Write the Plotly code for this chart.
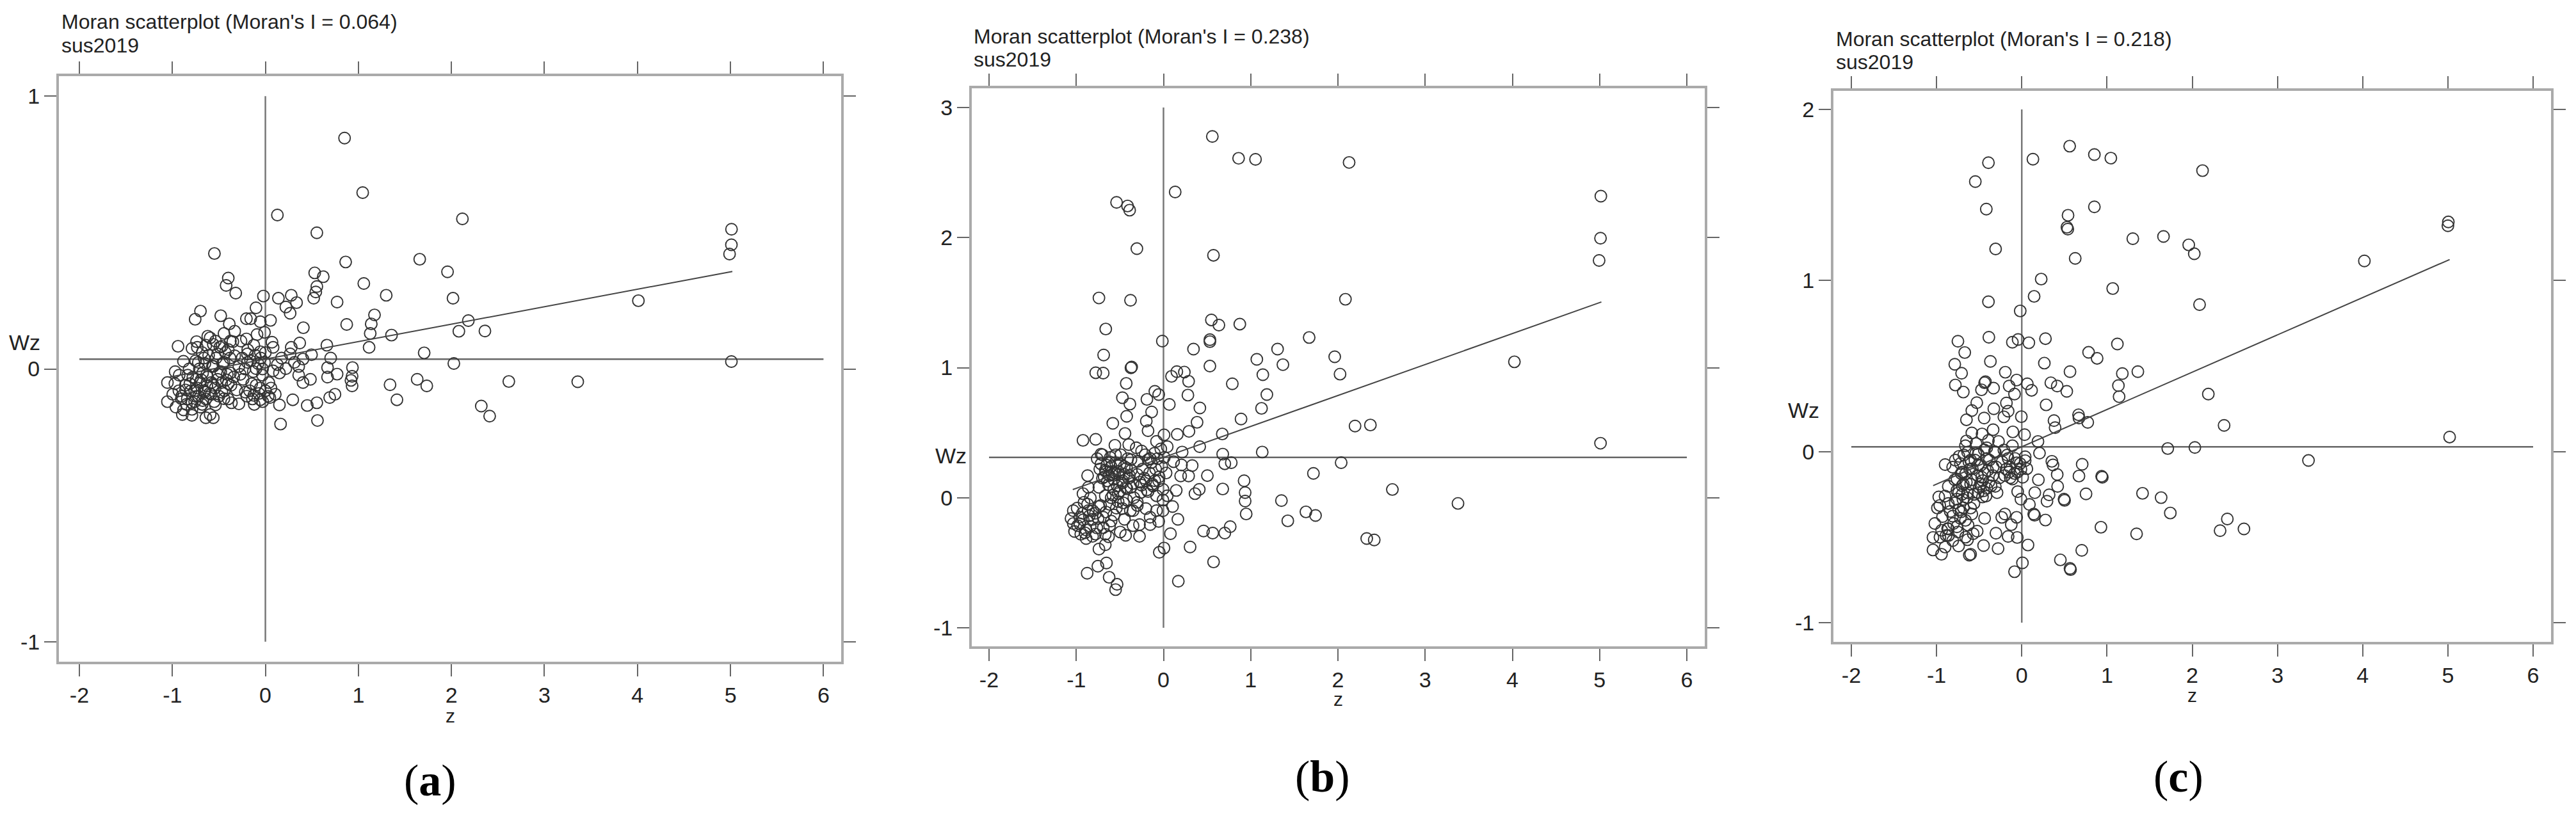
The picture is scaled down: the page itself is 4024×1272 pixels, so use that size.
import plotly.graph_objects as go

# ---------------- data ----------------
TITLES = ["Moran scatterplot (Moran's I = 0.064)",
          "Moran scatterplot (Moran's I = 0.238)",
          "Moran scatterplot (Moran's I = 0.218)"]
SUBTITLE = "sus2019"
CAPTIONS = ["a", "b", "c"]
MORAN_I = [0.064, 0.238, 0.218]
MEAN_WZ = [0.036, 0.310, 0.028]
Z_LINE = [-1.04, 5.02]
X_TICKS = [-2, -1, 0, 1, 2, 3, 4, 5, 6]
Y_TICKS_A = [-1, 0, 1]
Y_TICKS_B = [-1, 0, 1, 2, 3]
Y_TICKS_C = [-1, 0, 1, 2]

POINTS_A = [
    (0.851, 0.846), (1.046, 0.646), (0.129, 0.564), (2.118, 0.550), (0.553, 0.499),
    (-0.548, 0.423), (1.659, 0.402), (0.863, 0.392), (1.958, 0.356), (0.530, 0.352),
    (0.622, 0.338), (1.058, 0.313), (-0.399, 0.333), (-0.422, 0.306), (-0.319, 0.278),
    (0.553, 0.302), (0.542, 0.282), (0.519, 0.259), (-0.021, 0.267), (0.140, 0.259),
    (0.278, 0.270), (0.335, 0.243), (0.220, 0.227), (0.266, 0.204), (1.299, 0.270),
    (2.017, 0.259), (0.771, 0.245), (-0.698, 0.212), (-0.755, 0.182), (-0.480, 0.195),
    (-0.101, 0.224), (-0.204, 0.184), (-0.158, 0.184), (-0.055, 0.173), (0.055, 0.178),
    (-0.388, 0.165), (1.173, 0.198), (1.138, 0.165), (2.182, 0.177), (0.874, 0.163),
    (0.408, 0.151), (-0.330, 0.138), (1.127, 0.130), (2.080, 0.138), (1.356, 0.124),
    (2.360, 0.139), (-0.204, 0.110), (-0.090, 0.126), (0.071, 0.098), (0.369, 0.095),
    (-0.939, 0.083), (1.115, 0.079), (0.661, 0.087), (0.278, 0.079), (0.496, 0.052),
    (1.707, 0.059), (0.702, 0.040), (2.026, 0.020), (0.668, 0.005), (0.936, 0.005),
    (0.771, -0.019), (0.932, -0.027), (0.668, -0.030), (0.484, -0.038), (0.920, -0.042),
    (0.932, -0.062), (0.358, -0.023), (0.404, -0.050), (1.340, -0.058), (1.632, -0.038),
    (1.735, -0.062), (1.414, -0.113), (0.748, -0.093), (0.691, -0.105), (0.294, -0.113),
    (0.553, -0.124), (0.450, -0.134), (0.151, -0.132), (0.163, -0.202), (0.560, -0.189),
    (2.321, -0.136), (5.011, 0.512), (5.010, 0.455), (4.990, 0.421), (5.010, 0.027),
    (4.010, 0.250), (3.358, -0.047), (2.617, -0.046), (2.411, -0.173),
    # dense cluster
    (-1.053, -0.050), (-1.053, -0.120), (-0.962, -0.140), (-0.893, -0.167), (-0.789, -0.148),
    (-0.640, -0.179), (-0.560, -0.179), (-0.594, -0.167), (-0.881, 0.028), (-0.789, 0.075),
    (-0.732, 0.079), (-0.594, 0.114), (-0.445, 0.130), (-0.640, 0.087), (-0.285, -0.128),
    (-0.365, -0.124), (-0.124, -0.097), (-0.055, -0.113), (0.048, -0.105), (0.106, -0.093),
    (0.037, -0.050), (0.151, -0.015), (0.174, 0.040), (0.266, 0.055), (0.404, 0.036),
    (0.358, 0.009), (0.083, 0.079), (-0.193, 0.055), (-0.193, 0.024), (-0.101, 0.001),
    (-0.239, -0.038), (-0.973, -0.054), (-0.996, -0.093), (-0.858, -0.077), (-0.744, -0.038),
    (-0.675, -0.015), (-0.560, 0.009), (-0.445, 0.024), (-0.514, 0.055), (-0.399, 0.071),
    (-0.330, 0.048), (-0.629, -0.062), (-0.514, -0.038), (-0.468, -0.085), (-0.744, -0.101),
    (-0.835, -0.023), (-0.675, -0.116), (-0.583, -0.093), (-0.399, -0.054), (-0.308, -0.077),
    (-0.376, -0.015), (-0.285, 0.009), (-0.147, -0.054), (-0.055, -0.070), (-0.032, -0.023),
    (-0.009, 0.024), (-0.055, 0.063), (-0.124, 0.087), (-0.262, 0.102), (-0.009, 0.134),
    (-0.376, 0.102), (-0.537, 0.102), (-0.468, 0.083), (-0.721, 0.024), (-0.927, -0.023),
    (-0.812, -0.054), (-0.904, -0.109), (-0.789, -0.124), (-0.537, -0.132), (-0.445, -0.109),
    (-0.652, -0.085), (-0.216, -0.085), (0.083, -0.007), (0.129, 0.016), (0.220, 0.001),
    (0.312, 0.024), (-0.700, -0.050), (-0.620, -0.030), (-0.560, -0.060), (-0.480, -0.010),
    (-0.760, -0.080), (-0.660, 0.040), (-0.420, -0.040), (-0.850, -0.130), (-0.700, -0.140),
    (-0.90, -0.10), (-0.86, -0.06), (-0.84, -0.11), (-0.82, 0.00), (-0.80, -0.08),
    (-0.78, -0.03), (-0.76, -0.12), (-0.75, 0.03), (-0.73, -0.07), (-0.72, -0.10),
    (-0.71, 0.00), (-0.69, -0.04), (-0.68, -0.13), (-0.66, -0.08), (-0.65, 0.02),
    (-0.64, -0.11), (-0.63, -0.02), (-0.61, 0.05), (-0.60, -0.09), (-0.58, -0.05),
    (-0.57, 0.01), (-0.55, -0.12), (-0.54, -0.07), (-0.53, 0.04), (-0.51, -0.02),
    (-0.50, -0.10), (-0.49, 0.08), (-0.47, -0.05), (-0.46, 0.02), (-0.44, -0.08),
    (-0.43, 0.06), (-0.41, -0.02), (-0.40, -0.11), (-0.38, 0.04), (-0.37, -0.06),
    (-0.35, 0.10), (-0.34, -0.03), (-0.68, 0.06), (-0.74, 0.10), (-0.62, 0.12),
    (-0.56, 0.09), (-0.97, -0.01), (-0.93, -0.08), (-0.88, -0.15), (-0.79, -0.17),
    (-0.25, 0.04), (-0.22, 0.00), (-0.19, 0.07), (-0.16, 0.03), (-0.13, -0.01),
    (-0.11, 0.05), (-0.08, 0.02), (-0.05, 0.04), (-0.03, 0.00), (0.00, 0.06),
    (-0.27, -0.02), (-0.17, -0.08), (-0.14, -0.11), (-0.10, -0.06), (-0.07, -0.09),
    (-0.03, -0.12), (0.00, -0.08), (0.03, -0.10), (0.06, -0.07), (-0.20, -0.10),
    (-0.12, -0.13),
]

POINTS_B = [
    (0.560, 2.778), (0.861, 2.610), (1.055, 2.602), (2.128, 2.578), (0.134, 2.351),
    (-0.538, 2.271), (-0.412, 2.243), (-0.388, 2.211), (-0.305, 1.915), (0.573, 1.864),
    (5.014, 2.319), (5.010, 1.995), (4.994, 1.824), (5.010, 0.419), (4.023, 1.045),
    (3.376, -0.044), (2.624, 0.063),
    (-0.740, 1.536), (-0.378, 1.518), (2.086, 1.526), (-0.662, 1.297), (0.549, 1.367),
    (0.635, 1.327), (0.875, 1.335), (1.670, 1.232), (-0.013, 1.204), (0.532, 1.215),
    (0.532, 1.200), (0.344, 1.143), (1.308, 1.143), (1.963, 1.084), (1.070, 1.064),
    (-0.686, 1.097), (-0.373, 0.999), (-0.365, 1.005), (-0.777, 0.961), (-0.691, 0.958),
    (1.369, 1.023), (0.532, 1.012), (2.024, 0.950), (1.139, 0.946), (0.092, 0.933),
    (0.153, 0.969), (0.239, 0.966), (0.288, 0.895), (-0.427, 0.879), (0.789, 0.876),
    (-0.099, 0.818), (-0.055, 0.793), (0.280, 0.789), (1.185, 0.793), (-0.471, 0.769),
    (-0.190, 0.756), (-0.385, 0.720), (0.067, 0.717), (0.417, 0.690), (1.124, 0.687),
    (-0.136, 0.659), (-0.422, 0.626), (0.385, 0.580), (-0.197, 0.589), (0.889, 0.605),
    (-0.581, 0.572), (-0.177, 0.515), (2.196, 0.551), (2.372, 0.559), (0.292, 0.510),
    (0.158, 0.487), (0.674, 0.490), (0.006, 0.483), (-0.441, 0.494), (-0.923, 0.441),
    (-0.777, 0.449), (-0.080, 0.433), (0.415, 0.392), (-0.557, 0.403), (-0.398, 0.408),
    (-0.312, 0.384), (0.043, 0.392), (1.132, 0.351), (0.214, 0.351), (0.679, 0.335),
    (-0.716, 0.335), (-0.153, 0.301), (2.037, 0.269), (0.703, 0.261), (0.777, 0.269),
    (0.116, 0.277), (0.206, 0.252), (0.329, 0.247), (1.719, 0.187), (0.503, 0.170),
    (0.924, 0.130), (0.197, 0.167), (0.288, 0.167), (-0.870, 0.170), (0.679, 0.067),
    (0.936, 0.039), (0.410, 0.064), (0.146, 0.056), (0.361, 0.031), (0.936, -0.026),
    (1.352, -0.022), (0.948, -0.125), (1.425, -0.178), (1.633, -0.109), (1.743, -0.137),
    (2.330, -0.314), (2.416, -0.325), (0.104, -0.068), (0.165, -0.166), (0.459, -0.256),
    (0.564, -0.272), (0.703, -0.272), (0.765, -0.223), (0.080, -0.277), (0.305, -0.379),
    (0.006, -0.387), (-0.048, -0.420), (0.574, -0.494), (0.170, -0.642), (-0.875, -0.581),
    (-0.752, -0.527), (-0.654, -0.502), (-0.740, -0.395), (-0.623, -0.612), (-0.532, -0.666),
    (-0.549, -0.707), (-0.667, -0.362), (-0.275, -0.297), (-0.434, -0.289), (-0.496, -0.264),
    (-0.153, -0.207), (-0.275, -0.207), (-0.080, -0.100), (-0.006, -0.100), (-1.034, -0.100),
    (-1.034, -0.199), (-0.948, -0.281), (-0.887, -0.314), (-0.923, 0.031), (-0.862, 0.080),
    # dense cluster
    (-0.618, 0.276), (-0.496, 0.260), (-0.373, 0.293), (-0.251, 0.359), (-0.177, 0.293),
    (-0.104, 0.342), (-0.031, 0.375), (-0.716, 0.260), (-0.667, 0.211), (-0.593, 0.178),
    (-0.520, 0.203), (-0.422, 0.228), (-0.300, 0.178), (-0.202, 0.129), (-0.128, 0.105),
    (-0.055, 0.129), (-0.006, 0.064), (0.043, 0.015), (-0.642, 0.129), (-0.740, 0.080),
    (-0.569, 0.064), (-0.471, 0.113), (-0.373, 0.080), (-0.251, 0.097), (-0.177, 0.047),
    (-0.080, 0.015), (-0.838, -0.002), (-0.667, 0.015), (-0.520, 0.031), (-0.422, -0.018),
    (-0.300, -0.035), (-0.202, -0.084), (-0.349, -0.100), (-0.471, -0.084), (-0.618, -0.051),
    (-0.740, -0.068), (-0.862, -0.100), (-0.960, -0.150), (-0.813, -0.166), (-0.691, -0.150),
    (-0.569, -0.133), (-0.447, -0.166), (-0.618, -0.215), (-0.764, -0.232), (-0.887, -0.248),
    (-0.667, -0.281), (-0.813, -0.297), (-0.985, -0.215), (-0.911, -0.035), (-0.349, -0.215),
    (-0.153, -0.150), (-0.055, -0.182), (-0.006, -0.018), (-0.550, 0.330), (-0.450, 0.180),
    (-0.700, 0.150), (-0.600, 0.000), (-0.780, -0.120), (-0.520, -0.030), (-0.400, 0.150),
    (-0.76, 0.30), (-0.73, 0.22), (-0.70, 0.33), (-0.68, 0.16), (-0.65, 0.25),
    (-0.63, 0.10), (-0.61, 0.31), (-0.59, 0.20), (-0.57, 0.14), (-0.55, 0.27),
    (-0.53, 0.09), (-0.51, 0.18), (-0.49, 0.33), (-0.47, 0.13), (-0.45, 0.24),
    (-0.43, 0.08), (-0.41, 0.30), (-0.39, 0.17), (-0.37, 0.21), (-0.35, 0.11),
    (-0.66, 0.20), (-0.60, 0.24), (-0.56, 0.19), (-0.62, 0.17),
    (-0.29, 0.28), (-0.27, 0.12), (-0.24, 0.22), (-0.21, 0.33), (-0.19, 0.06),
    (-0.16, 0.19), (-0.14, 0.27), (-0.12, 0.09), (-0.09, 0.22), (-0.07, 0.30),
    (-0.05, 0.16), (-0.02, 0.24), (0.01, 0.31), (0.03, 0.19), (-0.22, 0.15), (-0.10, 0.13),
    (-1.06, -0.16), (-1.02, -0.26), (-0.99, -0.08), (-0.96, -0.20), (-0.93, -0.12),
    (-0.90, -0.27), (-0.87, -0.05), (-0.84, -0.22), (-0.81, -0.10), (-0.78, -0.28),
    (-0.75, -0.16), (-0.72, -0.06), (-0.69, -0.23), (-0.66, -0.11), (-0.63, -0.30),
    (-0.60, -0.18), (-0.92, -0.17), (-0.85, -0.14),
    (-0.58, 0.02), (-0.54, -0.08), (-0.50, 0.05), (-0.46, -0.04), (-0.42, 0.07),
    (-0.38, -0.10), (-0.34, 0.00), (-0.30, -0.06), (-0.26, 0.04),
]

POINTS_C = [
    (0.562, 1.785), (0.852, 1.736), (1.045, 1.715), (0.131, 1.709), (-0.391, 1.688),
    (2.121, 1.642), (-0.545, 1.578), (-0.416, 1.417), (0.543, 1.381), (0.530, 1.311),
    (0.540, 1.300), (0.852, 1.430), (5.005, 1.342), (5.000, 1.320), (-0.307, 1.184),
    (0.627, 1.129), (1.303, 1.244), (1.663, 1.257), (1.959, 1.208), (2.024, 1.156),
    (4.020, 1.114), (0.228, 1.008), (5.020, 0.085), (3.364, -0.052),
    (1.067, 0.953), (0.145, 0.907), (-0.391, 0.876), (2.086, 0.859), (-0.018, 0.822),
    (-0.749, 0.645), (-0.386, 0.668), (-0.110, 0.639), (-0.043, 0.655), (0.083, 0.636),
    (0.278, 0.660), (1.122, 0.629), (-0.669, 0.579), (0.784, 0.580), (0.884, 0.545),
    (-0.786, 0.510), (-0.368, 0.527), (0.265, 0.517), (-0.706, 0.458), (-0.193, 0.464),
    (0.566, 0.467), (1.180, 0.456), (1.362, 0.467), (-0.779, 0.389), (-0.686, 0.348),
    (-0.436, 0.402), (-0.426, 0.408), (-0.331, 0.371), (-0.473, 0.361), (-0.148, 0.383),
    (-0.060, 0.418), (-0.085, 0.336), (0.065, 0.396), (0.115, 0.358), (0.341, 0.402),
    (0.416, 0.383), (0.528, 0.352), (1.134, 0.386), (1.142, 0.321), (2.189, 0.336),
    (-0.528, 0.286), (-0.586, 0.240), (-0.180, 0.284), (-0.160, 0.236), (-0.210, 0.203),
    (-0.328, 0.250), (0.286, 0.273), (-0.649, 0.186), (-0.441, 0.196), (-0.005, 0.204),
    (0.378, 0.181), (0.391, 0.140), (0.666, 0.215), (0.671, 0.196), (0.774, 0.171),
    (2.374, 0.153), (-0.586, 0.109), (-0.466, 0.103), (-0.336, 0.128), (-0.105, 0.115),
    (0.033, 0.099), (-0.649, 0.062), (-0.391, 0.065), (-0.273, 0.059), (0.190, 0.059),
    (1.713, 0.018), (2.031, 0.024), (0.208, -0.009), (-0.899, -0.076), (0.353, -0.057),
    (0.366, -0.078), (0.709, -0.074), (0.040, -0.053), (0.416, -0.134), (0.671, -0.143),
    (0.937, -0.144), (0.945, -0.150), (0.195, -0.165), (0.421, -0.203), (0.754, -0.247),
    (0.153, -0.240), (0.321, -0.253), (0.296, -0.290), (0.496, -0.278), (0.502, -0.285),
    (1.417, -0.244), (1.635, -0.269), (1.743, -0.359), (0.140, -0.365), (0.150, -0.372),
    (0.278, -0.400), (-0.048, -0.234), (-0.010, -0.278), (-0.060, -0.384), (0.090, -0.309),
    (0.929, -0.442), (1.347, -0.481), (2.412, -0.394), (2.327, -0.462), (2.607, -0.452),
    (0.704, -0.577), (0.453, -0.633), (0.566, -0.683), (0.572, -0.690), (0.008, -0.650),
    (-0.085, -0.702), (0.073, -0.546), (-0.053, -0.502), (-0.160, -0.496), (-0.278, -0.567),
    (-0.448, -0.549), (-0.616, -0.605), (-0.600, -0.600), (-0.741, -0.552), (-0.942, -0.600),
    (-1.042, -0.575), (-1.042, -0.502), (-0.899, -0.558), (-0.303, -0.477), (-0.436, -0.390),
    (-0.523, -0.465), (-0.636, -0.515), (-0.235, -0.384), (-0.198, -0.365), (-0.123, -0.427),
    (-0.974, -0.265), (-0.962, -0.315), (-0.862, -0.303), (-0.761, -0.278), (-0.686, -0.328),
    (-0.811, -0.377), (-0.862, -0.452), (-0.761, -0.440), (-0.661, -0.402), (-0.586, -0.365),
    (-0.887, -0.490),
    # dense cluster
    (-0.736, -0.028), (-0.636, -0.003), (-0.511, -0.015), (-0.411, -0.040), (-0.311, -0.003),
    (-0.210, 0.009), (-0.110, 0.034), (-0.160, -0.040), (-0.060, -0.066), (-0.185, -0.103),
    (-0.085, -0.128), (-0.010, -0.103), (-0.135, -0.153), (-0.811, -0.091), (-0.711, -0.128),
    (-0.611, -0.103), (-0.511, -0.078), (-0.436, -0.128), (-0.336, -0.091), (-0.386, -0.178),
    (-0.486, -0.190), (-0.586, -0.165), (-0.686, -0.190), (-0.786, -0.165), (-0.862, -0.203),
    (-0.761, -0.228), (-0.636, -0.240), (-0.511, -0.240), (-0.411, -0.215), (-0.311, -0.203),
    (-0.260, -0.153), (-0.461, -0.265), (-0.561, -0.303), (-0.711, -0.352), (-0.661, 0.034),
    (-0.411, 0.022), (-0.536, 0.047), (-0.700, -0.250), (-0.600, -0.050), (-0.470, -0.150),
    (-0.78, -0.05), (-0.76, -0.16), (-0.74, -0.24), (-0.72, -0.07), (-0.70, -0.20),
    (-0.68, -0.02), (-0.66, -0.13), (-0.64, -0.27), (-0.62, -0.06), (-0.60, -0.19),
    (-0.58, -0.10), (-0.56, -0.25), (-0.54, -0.01), (-0.52, -0.14), (-0.50, -0.21),
    (-0.48, -0.08), (-0.46, -0.17), (-0.44, 0.01), (-0.42, -0.26), (-0.40, -0.11),
    (-0.38, -0.05), (-0.36, -0.20), (-0.34, -0.14), (-0.32, 0.00), (-0.30, -0.09),
    (-0.29, -0.24), (-0.55, -0.05), (-0.65, -0.18), (-0.45, -0.23), (-0.70, -0.12),
    (-0.23, -0.06), (-0.20, -0.14), (-0.17, -0.02), (-0.14, -0.09), (-0.11, -0.16),
    (-0.08, -0.04), (-0.05, -0.12), (-0.02, -0.07), (0.01, -0.15), (0.04, -0.03),
    (0.06, -0.10), (-0.15, -0.12),
    (-1.02, -0.42), (-0.99, -0.33), (-0.96, -0.50), (-0.93, -0.38), (-0.90, -0.26),
    (-0.87, -0.45), (-0.84, -0.35), (-0.81, -0.52), (-0.78, -0.30), (-0.75, -0.47),
    (-0.72, -0.39), (-0.69, -0.28), (-0.66, -0.50), (-0.63, -0.43), (-0.60, -0.33),
    (-0.57, -0.48), (-0.80, -0.42), (-0.74, -0.34), (-0.86, -0.49), (-0.94, -0.46),
]

# ---------------- layout geometry (pixels of the 4024 x 1272 page) ----------------
PAGE_W, PAGE_H = 4024, 1272
BODY = 8                      # default page margin around the plot div
W, H = PAGE_W - BODY, PAGE_H - BODY
PANELS = [
    dict(x0=92, x1=1314, y0=119, y1=1034, xr=[-2.22, 6.19], yr=[-1.073, 1.073],
         yt=Y_TICKS_A, pts=POINTS_A, title=(94, 34, 71), wz=(38, 535), z=(703, 1118),
         cap=(672, 1219)),
    dict(x0=1518, x1=2663, y0=138, y1=1010, xr=[-2.198, 6.205], yr=[-1.143, 3.148],
         yt=Y_TICKS_B, pts=POINTS_B, title=(1519, 57, 93), wz=(1485, 712), z=(2090, 1092),
         cap=(2066, 1213)),
    dict(x0=2864, x1=3985, y0=142, y1=1003, xr=[-2.21, 6.21], yr=[-1.112, 2.108],
         yt=Y_TICKS_C, pts=POINTS_C, title=(2866, 61, 97), wz=(2817, 641), z=(3424, 1086),
         cap=(3403, 1213)),
]

SANS = "Liberation Sans, Arial, sans-serif"
SERIF = "Liberation Serif, Times New Roman, serif"
TXT = "#222222"

fig = go.Figure()
annotations = []


def px(x, y):
    return (x - BODY) / W, 1 - (y - BODY) / H


for i, p in enumerate(PANELS):
    xa = "x" if i == 0 else f"x{i+1}"
    ya = "y" if i == 0 else f"y{i+1}"
    zs = [q[0] for q in p["pts"]]
    wzs = [q[1] for q in p["pts"]]
    yt = p["yt"]
    # reference lines (mean of z and mean of Wz)
    fig.add_trace(go.Scatter(x=[0, 0], y=[min(yt), max(yt)], mode="lines",
                             line=dict(color="#777777", width=2.5), xaxis=xa, yaxis=ya,
                             showlegend=False, hoverinfo="skip"))
    fig.add_trace(go.Scatter(x=[X_TICKS[0], X_TICKS[-1]], y=[MEAN_WZ[i], MEAN_WZ[i]],
                             mode="lines", line=dict(color="#666666", width=2.5),
                             xaxis=xa, yaxis=ya, showlegend=False, hoverinfo="skip"))
    # points
    fig.add_trace(go.Scatter(x=zs, y=wzs, mode="markers",
                             marker=dict(symbol="circle-open", size=18, color="#333333",
                                         line=dict(width=1.9)),
                             xaxis=xa, yaxis=ya, showlegend=False))
    # regression line, slope = Moran's I
    fig.add_trace(go.Scatter(x=Z_LINE, y=[MEAN_WZ[i] + MORAN_I[i] * z for z in Z_LINE],
                             mode="lines", line=dict(color="#444444", width=2),
                             xaxis=xa, yaxis=ya, showlegend=False, hoverinfo="skip"))

    axis_common = dict(showline=True, linecolor="#aaaaaa", linewidth=4, mirror="allticks",
                       ticks="outside", ticklen=19, tickwidth=2, tickcolor="#666666",
                       showgrid=False, zeroline=False,
                       tickfont=dict(family=SANS, size=34, color=TXT))
    dx0, dy0 = px(p["x0"], p["y1"])
    dx1, dy1 = px(p["x1"], p["y0"])
    fig.update_layout(**{
        ("xaxis" if i == 0 else f"xaxis{i+1}"): dict(
            domain=[dx0, dx1], range=p["xr"], anchor=ya,
            tickvals=X_TICKS, ticktext=[str(v) for v in X_TICKS], **axis_common),
        ("yaxis" if i == 0 else f"yaxis{i+1}"): dict(
            domain=[dy0, dy1], range=p["yr"], anchor=xa,
            tickvals=yt, ticktext=[str(v) for v in yt], **axis_common),
    })

    tx, ty1, ty2 = p["title"]
    for txt, ty in ((TITLES[i], ty1), (SUBTITLE, ty2)):
        ax_, ay_ = px(tx, ty)
        annotations.append(dict(x=ax_, y=ay_, xref="paper", yref="paper", text=txt,
                                showarrow=False, xanchor="left", yanchor="middle",
                                font=dict(family=SANS, size=32, color=TXT)))
    ax_, ay_ = px(*p["wz"])
    annotations.append(dict(x=ax_, y=ay_, xref="paper", yref="paper", text="Wz",
                            showarrow=False, xanchor="center", yanchor="middle",
                            font=dict(family=SANS, size=34, color=TXT)))
    ax_, ay_ = px(*p["z"])
    annotations.append(dict(x=ax_, y=ay_, xref="paper", yref="paper", text="z",
                            showarrow=False, xanchor="center", yanchor="middle",
                            font=dict(family=SANS, size=30, color=TXT)))
    ax_, ay_ = px(*p["cap"])
    annotations.append(dict(x=ax_, y=ay_, xref="paper", yref="paper",
                            text=f"(<b>{CAPTIONS[i]}</b>)", showarrow=False,
                            xanchor="center", yanchor="middle",
                            font=dict(family=SERIF, size=70, color="#000000")))

fig.update_layout(width=W, height=H, margin=dict(l=0, r=0, t=0, b=0),
                  paper_bgcolor="white", plot_bgcolor="white",
                  annotations=annotations, showlegend=False)

fig.write_html("out.html")
